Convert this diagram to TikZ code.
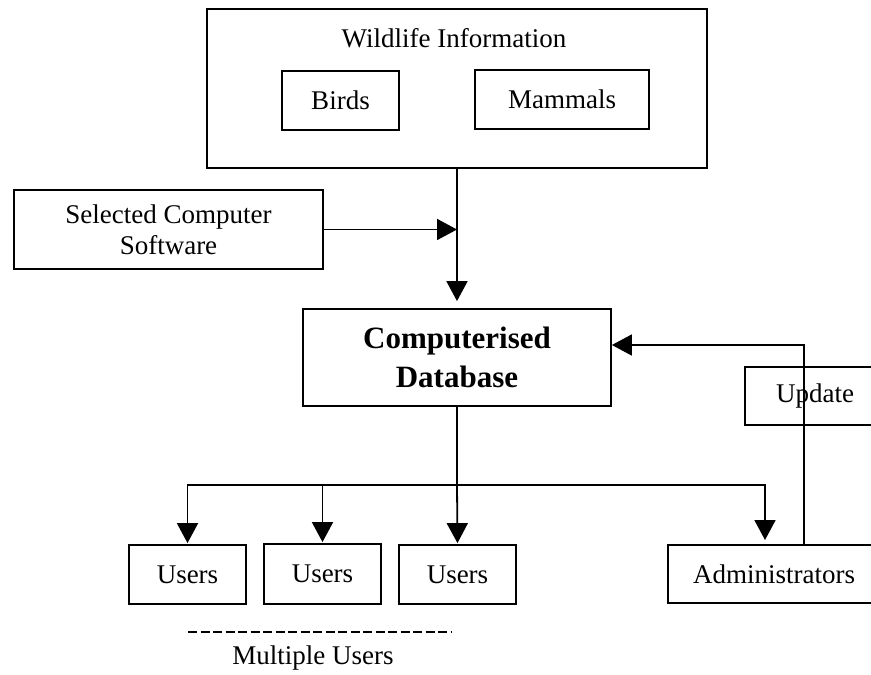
\documentclass[tikz,border=0pt]{standalone}
\usepackage{fontspec}
\setmainfont{Liberation Serif}
\usetikzlibrary{arrows.meta,calc}
\tikzset{
  box/.style={draw, line width=1.8pt, rectangle, inner sep=0pt, font=\fontsize{27}{31}\selectfont, align=center},
  txt/.style={inner sep=0pt, font=\fontsize{27}{31}\selectfont, align=center},
  conn/.style={line width=1.8pt},
  arr/.style={line width=1.8pt, -{Triangle[length=20pt,width=21pt]}},
}
\begin{document}
\begin{tikzpicture}[x=1pt,y=-1pt]
\useasboundingbox (0,0) rectangle (871,675);
\clip (0,0) rectangle (871,675);
% top container
\node[box, minimum width=500pt, minimum height=159pt] (wild) at (457,88.5) {};
\node[txt] (wildt) at (454,38) {Wildlife Information};
\node[box, minimum width=117pt, minimum height=59pt] (birds) at (340.5,100.5) {Birds};
\node[box, minimum width=174pt, minimum height=59pt] (mammals) at (562,99.5) {Mammals};
% software
\node[box, minimum width=309pt, minimum height=79pt] (soft) at (168.5,229.5) {Selected Computer\\Software};
% database
\node[box, minimum width=308pt, minimum height=97pt, font=\fontsize{31}{39}\selectfont\bfseries] (db) at (457,357.5) {Computerised\\Database};
% update (open to the right)
\node[box, minimum width=140pt, minimum height=58pt, text width=120pt] (upd) at (815,396) {Update};
% users
\node[box, minimum width=117pt, minimum height=59pt] (u1) at (187.5,574.5) {Users};
\node[box, minimum width=117pt, minimum height=60pt] (u2) at (322.5,574) {Users};
\node[box, minimum width=117pt, minimum height=59pt] (u3) at (457.5,574.5) {Users};
\node[box, minimum width=212pt, minimum height=58pt, text width=170pt] (admin) at (774,574) {Administrators};
% multiple users
\coordinate (dl) at (188,632);
\coordinate (dr) at (452,632);
\draw[line width=2pt, dash pattern=on 9pt off 3.5pt] (dl) -- (dr);
\node[txt] (multi) at (313,658) {Multiple Users};
% connectors
\draw[arr, shorten >=7pt] (wild.south) -- (db.north);
\draw[arr] (soft.east) -- (soft.east -| wild.south);
\coordinate (bus) at (457,485);
\draw[conn] (db.south) -- (bus);
\draw[arr, shorten >=1pt] (bus) -| (u1.north);
\draw[arr, shorten >=1pt] (bus) -| (u2.north);
\draw[arr, shorten >=1pt] (bus) -- (u3.north);
\coordinate (adin) at (765,545);
\draw[arr, shorten >=5pt] (bus) -| (adin);
\coordinate (adout) at (804,545);
\draw[arr] (adout) |- ([yshift=12.5pt]db.east);
\end{tikzpicture}
\end{document}
